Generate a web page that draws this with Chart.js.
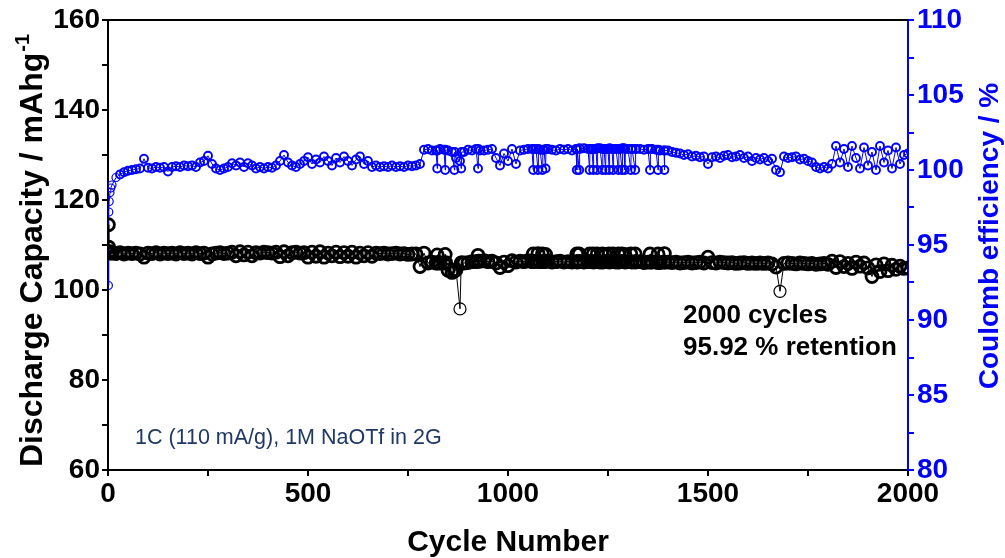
<!DOCTYPE html>
<html>
<head>
<meta charset="utf-8">
<script src="https://cdn.jsdelivr.net/npm/chart.js@4/dist/chart.umd.min.js"></script>
<style>
html,body{margin:0;padding:0;background:#fff;}
#wrap{width:1005px;height:558px;position:relative;}
canvas{display:block;}
</style>
</head>
<body>
<div id="wrap"><canvas id="c" width="1005" height="558"></canvas></div>
<script>
// ---------- DATA ----------
const cycles = [1,2,3,5,7,
10,20,30,40,50,60,70,80,90,100,
110,120,130,140,150,160,170,180,190,200,
210,220,230,240,250,260,270,280,290,300,
310,320,330,340,350,360,370,380,390,400,
410,420,430,440,450,460,470,480,490,500,
510,520,530,540,550,560,570,580,590,600,
610,620,630,640,650,660,670,680,690,700,
710,720,730,740,750,760,770,780,790,800,
810,820,823,824,830,840,843,844,850,860,866,867,870,880,883,884,890,900,
910,920,925,926,930,940,950,960,970,980,990,1000,
1010,1020,1030,1040,1050,1060,1063,1064,1070,1075,1076,1080,1086,1087,1090,1094,1095,1100,
1110,1120,1130,1140,1150,1160,1170,1172,1173,1178,1179,1180,1190,1200,
1204,1205,1210,1213,1214,1220,1223,1224,1230,1236,1237,1240,1244,1245,1250,1253,1254,1260,1263,1264,1270,1276,1277,1280,1285,1286,1290,1292,1293,1300,
1307,1308,1310,1318,1319,1320,1330,1340,1350,1355,1356,1360,1370,1375,1376,1380,1390,1391,1392,1400,
1410,1420,1430,1440,1450,1460,1470,1480,1490,1500,
1510,1520,1530,1540,1550,1560,1570,1580,1590,1600,
1610,1620,1630,1640,1650,1660,1670,1680,1690,1700,
1710,1720,1730,1740,1750,1760,1770,1780,1790,1800,
1810,1820,1830,1840,1850,1860,1870,1880,1890,1900,
1910,1920,1930,1940,1950,1960,1970,1980,1990,2000];

const dischargeCapacity = [114.5,109.5,108.6,108.3,108.2,
108.2,108.1,108.3,108.0,108.2,108.1,108.2,108.0,107.3,108.2,
108.1,108.3,108.0,108.2,108.1,108.2,108.0,108.3,108.1,108.2,
108.0,108.3,108.1,108.2,107.3,108.0,108.2,108.3,108.1,108.2,
108.4,107.6,108.5,107.8,108.4,107.6,108.3,108.2,108.4,108.3,
108.2,108.4,107.4,108.5,107.6,108.3,108.4,108.2,108.3,107.3,
108.4,107.5,108.5,107.3,108.2,107.6,108.4,107.4,108.3,107.5,
108.4,107.3,108.2,107.6,108.3,107.5,108.2,108.1,108.2,108.0,
108.1,108.2,108.0,108.1,107.9,108.0,108.0,105.2,108.2,106.0,
106.2,106.0,107.8,106.0,106.0,106.0,107.9,106.1,104.4,103.9,104.2,104.4,104.5,95.8,106.0,106.0,106.0,106.1,
106.3,106.3,107.7,106.4,106.4,106.5,106.3,106.4,106.0,105.0,106.2,105.4,
106.5,106.2,106.4,106.3,106.5,106.3,108.0,106.3,106.4,108.1,106.4,106.3,108.0,106.3,106.3,107.9,106.4,106.4,
106.2,106.3,106.4,106.2,106.3,106.2,106.3,108.0,106.2,108.0,106.3,106.3,106.2,106.3,
108.0,106.3,106.3,108.0,106.2,106.3,108.0,106.3,106.2,108.0,106.2,106.3,107.9,106.3,106.3,108.0,106.2,106.3,108.0,106.3,106.2,108.0,106.2,106.3,108.0,106.3,106.3,107.9,106.2,106.3,
108.0,106.3,106.2,108.0,106.2,106.3,106.3,106.1,106.2,108.0,106.2,106.2,106.2,108.0,106.1,106.1,106.2,108.1,106.2,106.2,
106.1,106.2,106.0,106.1,106.2,106.0,106.1,106.2,106.0,107.3,
106.1,106.0,106.2,106.1,106.0,106.1,105.9,106.0,106.1,105.9,
106.0,105.9,106.0,105.9,106.0,105.8,105.1,99.7,105.9,106.0,
105.9,105.8,106.0,105.9,105.8,105.9,105.7,105.8,105.9,105.7,
106.4,105.0,106.3,105.2,105.9,104.8,106.2,105.3,106.0,104.9,
103.0,105.6,104.1,105.8,104.3,105.5,104.6,105.3,104.8,104.9];

const coulombEfficiency = [92.3,97.2,97.9,98.5,98.8,
99.0,99.5,99.7,99.85,99.95,100.0,100.05,100.1,100.75,100.15,
100.1,100.2,100.15,100.2,99.9,100.2,100.25,100.2,100.3,100.25,
100.3,100.2,100.5,100.6,100.95,100.4,100.1,100.0,100.1,100.2,
100.45,100.3,100.5,100.2,100.45,100.3,100.1,100.2,100.1,100.2,
100.15,100.3,100.6,101.0,100.5,100.3,100.2,100.4,100.6,100.85,
100.4,100.7,100.5,100.9,100.6,100.3,100.8,100.5,100.9,100.6,
100.3,100.7,100.9,100.4,100.6,100.2,100.3,100.2,100.25,100.2,
100.3,100.2,100.25,100.2,100.3,100.25,100.3,100.4,101.35,101.4,
101.3,101.3,100.1,101.3,101.4,101.35,100.0,101.35,101.3,101.2,100.0,101.2,100.8,100.6,100.1,101.2,101.2,101.35,
101.3,101.4,100.1,101.4,101.3,101.3,101.35,101.4,100.8,100.3,101.1,100.6,
101.4,100.4,101.3,101.35,101.4,101.4,100.0,101.4,101.4,100.0,101.4,101.35,100.0,101.35,101.35,100.1,101.4,101.4,
101.35,101.3,101.4,101.35,101.4,101.3,101.4,100.0,101.4,100.0,101.45,101.4,101.45,101.4,
100.0,101.4,101.4,100.0,101.4,101.4,100.0,101.45,101.45,100.0,101.4,101.4,100.0,101.4,101.4,100.0,101.45,101.4,100.0,101.4,101.4,100.0,101.4,101.4,100.0,101.45,101.45,100.0,101.4,101.4,
100.0,101.4,101.4,100.0,101.4,101.4,101.4,101.35,101.4,100.0,101.4,101.4,101.35,100.0,101.35,101.3,101.3,100.0,101.3,101.3,
101.2,101.15,101.1,101.0,101.05,100.9,100.95,100.85,100.9,100.4,
100.85,100.9,100.8,100.95,101.0,100.85,100.9,101.0,100.8,100.9,
100.6,100.8,100.7,100.8,100.6,100.75,100.0,99.85,100.9,100.8,
100.85,100.9,100.7,100.75,100.6,100.5,100.2,100.1,100.2,100.1,
100.4,101.6,100.5,101.4,100.2,101.6,100.8,100.1,101.5,100.3,
101.2,100.0,101.6,100.5,101.3,100.1,101.5,100.4,101.0,101.1];

const xTickLabels = [0, 500, 1000, 1500, 2000];
const leftTickLabels = [60, 80, 100, 120, 140, 160];
const rightTickLabels = [80, 85, 90, 95, 100, 105, 110];

// ---------- STYLE ----------
const FONT = "'Liberation Sans', Arial, Helvetica, sans-serif";
const BLUE = '#0000ff';
const BLACK = '#000000';

const capPoints = cycles.map((c, i) => ({x: c, y: dischargeCapacity[i]}));
const cePoints = cycles.map((c, i) => ({x: c, y: coulombEfficiency[i]}));

const decorPlugin = {
  id: 'decor',
  afterDraw(chart) {
    const ctx = chart.ctx;
    const a = chart.chartArea;
    ctx.save();
    // top frame
    ctx.strokeStyle = BLACK;
    ctx.lineWidth = 2;
    ctx.beginPath();
    ctx.moveTo(a.left - 1, a.top);
    ctx.lineTo(a.right, a.top);
    ctx.stroke();

    // x title
    ctx.fillStyle = BLACK;
    ctx.font = 'bold 30px ' + FONT;
    ctx.textAlign = 'center';
    ctx.textBaseline = 'middle';
    ctx.fillText('Cycle Number', (a.left + a.right) / 2, 543);

    // left title with superscript
    ctx.save();
    ctx.translate(42, 251);
    ctx.rotate(-Math.PI / 2);
    const main = 'Discharge Capacity / mAhg';
    const sup = '-1';
    ctx.font = 'bold 32px ' + FONT;
    const w1 = ctx.measureText(main).width;
    ctx.font = 'bold 20px ' + FONT;
    const w2 = ctx.measureText(sup).width;
    const start = -(w1 + w2) / 2;
    ctx.textAlign = 'left';
    ctx.textBaseline = 'alphabetic';
    ctx.font = 'bold 32px ' + FONT;
    ctx.fillText(main, start, 0);
    ctx.font = 'bold 20px ' + FONT;
    ctx.fillText(sup, start + w1 + 1, -13);
    ctx.restore();

    // right title
    ctx.save();
    ctx.translate(998, 236);
    ctx.rotate(-Math.PI / 2);
    ctx.fillStyle = BLUE;
    ctx.font = 'bold 28px ' + FONT;
    ctx.textAlign = 'center';
    ctx.textBaseline = 'alphabetic';
    ctx.fillText('Coulomb efficiency / %', 0, 0);
    ctx.restore();

    // annotations
    ctx.fillStyle = BLACK;
    ctx.font = 'bold 26px ' + FONT;
    ctx.textAlign = 'left';
    ctx.textBaseline = 'middle';
    ctx.fillText('2000 cycles', 683, 316);
    ctx.fillText('95.92 % retention', 683, 348);

    ctx.fillStyle = '#1f3864';
    ctx.font = '21.5px ' + FONT;
    ctx.fillText('1C (110 mA/g), 1M NaOTf in 2G', 135, 438);
    ctx.restore();
  }
};

// isolated points (far from the dense band) keep a thin outline
const capBorder = (ctx) => (ctx.raw && ctx.raw.y < 101 ? 1.2 : 2.8);
const ceBorder = (ctx) => (ctx.raw && ctx.raw.y < 99.6 ? 1.2 : 1.9);

new Chart(document.getElementById('c'), {
  type: 'scatter',
  data: {
    datasets: [
      {
        label: 'Discharge Capacity',
        data: capPoints,
        yAxisID: 'y',
        showLine: true,
        borderColor: BLACK,
        borderWidth: 1,
        pointStyle: 'circle',
        pointRadius: 6,
        pointBorderWidth: capBorder,
        pointBorderColor: BLACK,
        pointBackgroundColor: 'rgba(255,255,255,0)'
      },
      {
        label: 'Coulomb efficiency',
        data: cePoints,
        yAxisID: 'y1',
        showLine: true,
        borderColor: BLUE,
        borderWidth: 1,
        pointStyle: 'circle',
        pointRadius: 4,
        pointBorderWidth: ceBorder,
        pointBorderColor: BLUE,
        pointBackgroundColor: 'rgba(255,255,255,0)'
      }
    ]
  },
  options: {
    responsive: false,
    devicePixelRatio: 1,
    animation: false,
    events: [],
    layout: { padding: { top: 20, left: 0, right: 0, bottom: 0 } },
    plugins: { legend: { display: false }, tooltip: { enabled: false } },
    scales: {
      x: {
        type: 'linear',
        position: 'bottom',
        min: 0, max: 2000,
        border: { display: true, color: BLACK, width: 2 },
        grid: { display: true, drawOnChartArea: false, drawTicks: true, tickLength: 6, color: BLACK, lineWidth: 2 },
        ticks: {
          stepSize: 250, autoSkip: false, maxRotation: 0, minRotation: 0, padding: 1,
          color: BLACK, font: { family: FONT, size: 28, weight: 'bold' },
          callback: (v) => xTickLabels.includes(v) ? String(v) : ''
        },
        afterFit: (s) => { s.height = 88; }
      },
      y: {
        type: 'linear',
        position: 'left',
        min: 60, max: 160,
        border: { display: true, color: BLACK, width: 2 },
        grid: { display: true, drawOnChartArea: false, drawTicks: true, tickLength: 6, color: BLACK, lineWidth: 2 },
        ticks: {
          stepSize: 10, autoSkip: false, padding: 2,
          color: BLACK, font: { family: FONT, size: 28, weight: 'bold' },
          callback: (v) => leftTickLabels.includes(v) ? String(v) : ''
        },
        afterFit: (s) => { s.width = 108; }
      },
      y1: {
        type: 'linear',
        position: 'right',
        min: 80, max: 110,
        border: { display: true, color: BLUE, width: 2 },
        grid: { display: true, drawOnChartArea: false, drawTicks: true, tickLength: 6, color: BLUE, lineWidth: 2 },
        ticks: {
          stepSize: 2.5, autoSkip: false, padding: 3,
          color: BLUE, font: { family: FONT, size: 28, weight: 'bold' },
          callback: (v) => rightTickLabels.includes(v) ? String(v) : ''
        },
        afterFit: (s) => { s.width = 97; }
      }
    }
  },
  plugins: [decorPlugin]
});
</script>
</body>
</html>
